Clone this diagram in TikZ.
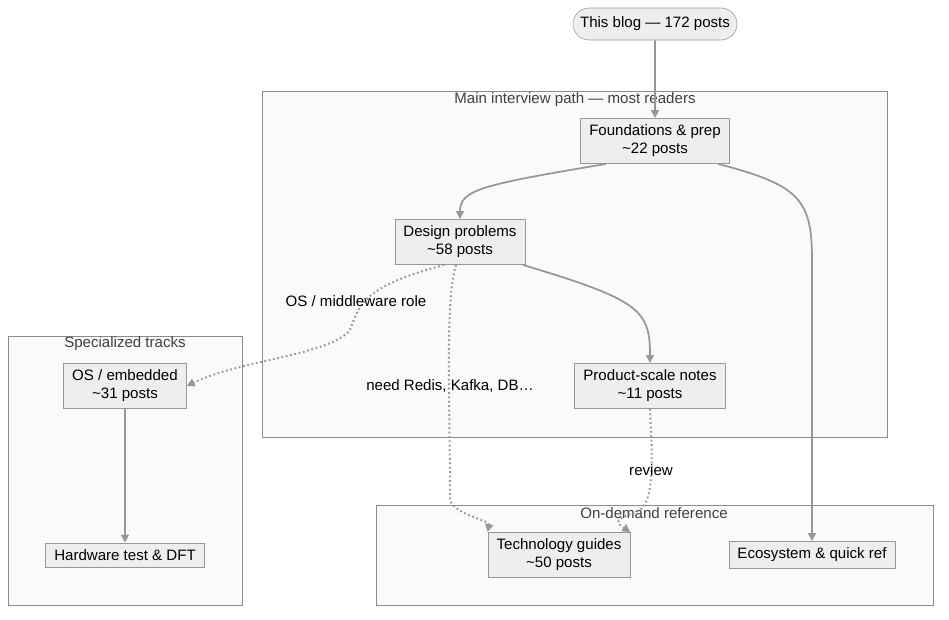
\documentclass[tikz,border=0pt]{standalone}
\usepackage{fontspec}
\setmainfont{Liberation Sans}
\usetikzlibrary{arrows.meta,positioning,shapes.misc}
\definecolor{edgegray}{HTML}{999792}
\definecolor{boxfill}{HTML}{EEEEEE}
\definecolor{clusterfill}{HTML}{FAFAFA}
\begin{document}
\begin{tikzpicture}[x=0.75pt,y=-0.75pt,
    every node/.style={font=\fontsize{11.3}{13.5}\selectfont},
    post/.style={rectangle,draw=edgegray,fill=boxfill,align=center,inner xsep=6.5pt,inner ysep=5pt},
    cluster/.style={draw=gray!90,fill=clusterfill},
    clabel/.style={text=black!75},
    arrow/.style={-{Triangle[length=6pt,width=6pt]},draw=edgegray,line width=1.3pt},
    link/.style={arrow,dotted,line width=1.5pt}
]
\useasboundingbox (0,0) rectangle (949,619);

% Clusters
\draw[cluster] (262,91) rectangle (887,437);
\node[clabel] (mainlbl) at (575,100) {Main interview path — most readers};
\draw[cluster] (8,336) rectangle (242,605);
\node[clabel] (speclbl) at (125,344) {Specialized tracks};
\draw[cluster] (376,505) rectangle (933,605);
\node[clabel] (reflbl) at (654,513) {On-demand reference};

% Nodes
\node[post,rounded rectangle,minimum width=136pt,minimum height=24pt] (blog) at (655,24) {This blog — 172 posts};
\node[post] (found) at (655,141) {Foundations \& prep\\\textasciitilde22 posts};
\node[post] (design) at (460,242) {Design problems\\\textasciitilde58 posts};
\node[post] (product) at (650,386) {Product-scale notes\\\textasciitilde11 posts};
\node[post] (os) at (125,386) {OS / embedded\\\textasciitilde31 posts};
\node[post] (hw) at (125,555) {Hardware test \& DFT};
\node[post] (tech) at (559,555) {Technology guides\\\textasciitilde50 posts};
\node[post] (eco) at (812,555) {Ecosystem \& quick ref};

% Connections
\draw[arrow] (blog) -- (found);
\draw[arrow] (found.205) .. controls (480,185) and (460,190) .. (design.north);
\draw[arrow] (found.-20) .. controls (800,185) and (812,200) .. (812,260) -- (eco.north);
\draw[arrow] (design.-20) .. controls (640,300) and (650,310) .. (product.north);
\draw[arrow] (os) -- (hw);
\draw[link] (design.-125) .. controls (370,285) and (360,300) .. (350,330) .. controls (330,355) and (240,360) .. (os.east);
\draw[link] (design.-100) .. controls (445,300) and (450,400) .. (450,500) .. controls (455,515) and (490,520) .. (tech.north west);
\draw[link] (product.south) .. controls (652,450) and (655,500) .. (640,510) .. controls (620,518) and (612,520) .. (tech.north east);

% Labels
\node (osrole) at (356,301) {OS / middleware role};
\node (needs) at (450,386) {need Redis, Kafka, DB…};
\node (review) at (651,470) {review};
\end{tikzpicture}
\end{document}
